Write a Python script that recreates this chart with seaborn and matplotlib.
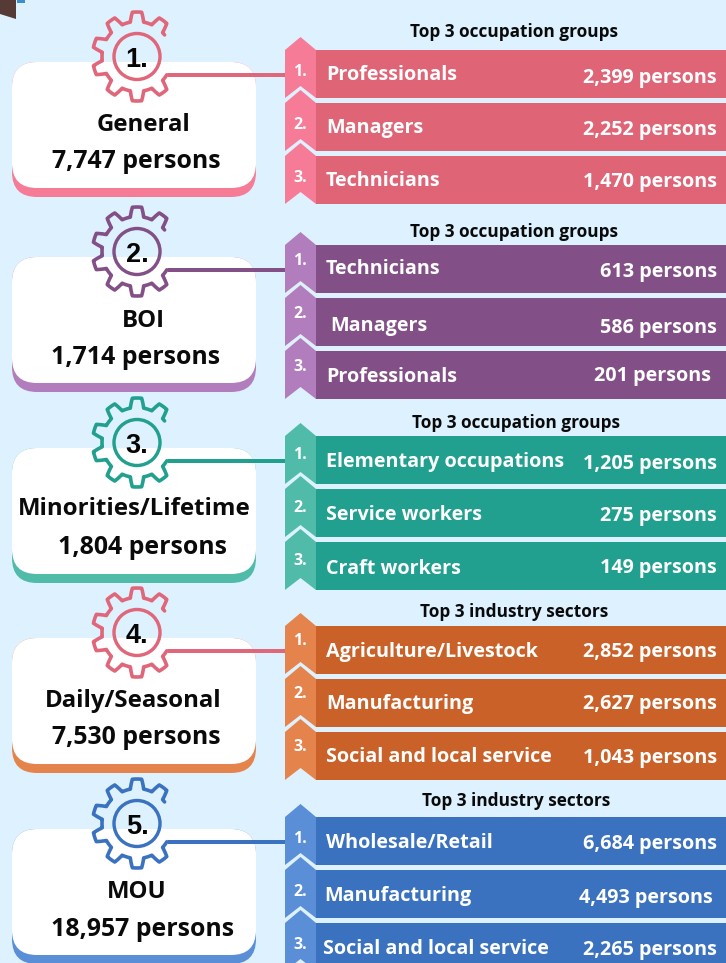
import numpy as np
import pandas as pd
import matplotlib
matplotlib.use("Agg")
import matplotlib.pyplot as plt
from matplotlib.patches import FancyBboxPatch, Polygon, Circle
import seaborn as sns

# ---------- data ----------
groups = ["General", "BOI", "Minorities/Lifetime", "Daily/Seasonal", "MOU"]
group_totals = ["7,747 persons", "1,714 persons", "1,804 persons", "7,530 persons", "18,957 persons"]
section_titles = ["Top 3 occupation groups", "Top 3 occupation groups", "Top 3 occupation groups",
                  "Top 3 industry sectors", "Top 3 industry sectors"]
item_names = [
    ["Professionals", "Managers", "Technicians"],
    ["Technicians", "Managers", "Professionals"],
    ["Elementary occupations", "Service workers", "Craft workers"],
    ["Agriculture/Livestock", "Manufacturing", "Social and local service"],
    ["Wholesale/Retail", "Manufacturing", "Social and local service"],
]
item_values = [
    [2399, 2252, 1470],
    [613, 586, 201],
    [1205, 275, 149],
    [2852, 2627, 1043],
    [6684, 4493, 2265],
]
bar_colors = ["#DF6475", "#825087", "#219F8F", "#CA6128", "#3A72BF"]
ribbon_colors = ["#F67B97", "#B27DBC", "#50BBA9", "#E5834D", "#5A8FD8"]
gear_colors = ["#E0667A", "#825087", "#219F8F", "#E0667A", "#3A72BF"]

# ---------- layout (pixels) ----------
W, H = 726, 963
BG = "#DDF2FE"
offsets = [0, 195, 386, 576, 767]
title_pos = [(514, 31), (514, 231), (516, 422), (514, 611), (516, 800)]
name_pos = [(143, 123), (143, 319), (134, 507), (133, 699), (137, 890)]
total_pos = [(136, 160), (136, 355), (143, 546), (136, 736), (143, 927)]
rank_dy = [-3, -9, -6, -10, -3]
label_x = [[326, 326, 326], [326, 330, 326], [326, 326, 326], [326, 326, 326], [326, 324, 323]]
label_y = [[74, 127, 180], [268, 324, 375], [461, 513, 567], [651, 703, 756], [841, 894, 948]]
value_x = [[717, 717, 717], [717, 717, 711], [717, 717, 717], [717, 717, 717], [717, 713, 717]]
value_y = [[76, 128, 180], [270, 326, 375], [462, 514, 567], [651, 703, 756], [843, 896, 948]]
rank_x = [300, 300, 300]
BAR_X0, RIB_X0 = 316, 285
BAR_H, STEP = 48, 53

sns.set_theme(style="white")
FONT = ["Open Sans", "DejaVu Sans"]
plt.rcParams["font.family"] = FONT

fig = plt.figure(figsize=(W / 100, H / 100), dpi=100, facecolor=BG)

# bars: one axes spanning the bar column, drawn through seaborn
rows = []
for g, off in enumerate(offsets):
    for r in range(3):
        rows.append({"group": groups[g], "y": 50 + off + r * STEP + BAR_H / 2,
                     "extent": W - BAR_X0, "value": item_values[g][r]})
df = pd.DataFrame(rows)
axb = fig.add_axes([BAR_X0 / W, 0, (W - BAR_X0) / W, 1], zorder=1)
sns.barplot(data=df, x="extent", y="y", hue="group", hue_order=groups, palette=bar_colors,
            orient="y", native_scale=True, dodge=False, width=BAR_H / STEP, saturation=1,
            legend=False, ax=axb, linewidth=0)
axb.set_xlim(0, W - BAR_X0)
axb.set_ylim(H, 0)
axb.axis("off")

# overlay in pixel coordinates
ax = fig.add_axes([0, 0, 1, 1], zorder=2)
ax.set_xlim(0, W)
ax.set_ylim(H, 0)
ax.axis("off")
ax.patch.set_alpha(0)

LW = 0.72  # px to pt
TXT_DY = 1.5


def gear_path(cx, cy):
    rin, rout = 35.0, 44.5
    ang = np.arange(38, 328.6, 0.5)
    r = []
    for a in ang:
        phi = abs(((a - 90 + 18) % 36) - 18)
        if phi < 6:
            r.append(rout)
        elif phi < 11:
            r.append(rout - (rout - rin) * (phi - 6) / 5)
        else:
            r.append(rin)
    r = np.array(r)
    t = np.radians(ang)
    return cx + r * np.cos(t), cy - r * np.sin(t)


# corner decoration
ax.add_patch(Polygon([(0, 0), (16, 0), (16, 19), (0, 14)], fc="#553A35", ec="none"))
ax.add_patch(Polygon([(17, 0), (25, 0), (25, 3), (17, 3)], fc="#3B8FCC", ec="none"))

for g, off in enumerate(offsets):
    c, rc, gc = bar_colors[g], ribbon_colors[g], gear_colors[g]
    # card with coloured lower lip
    for top, bot, col in [(62, 197, rc), (62, 188, "white")]:
        ax.add_patch(FancyBboxPatch((12 + 25, top + off + 25), 244 - 50, bot - top - 50,
                                    boxstyle="round,pad=25,rounding_size=25", fc=col, ec="none",
                                    mutation_aspect=1, zorder=2))
    # connector + gear
    ax.plot([168, RIB_X0], [75 + off, 75 + off], color=gc, lw=4 * LW, zorder=3, solid_capstyle="butt")
    gx, gy = gear_path(137, 56.5 + off)
    ax.plot(gx, gy, color=gc, lw=3.6 * LW, zorder=3, solid_joinstyle="round", solid_capstyle="round")
    ax.add_patch(Circle((137, 56.5 + off), 23, fc="none", ec=gc, lw=3.4 * LW, zorder=3))
    ax.text(137, 57 + off, f"{g + 1}.", ha="center", va="center_baseline", fontsize=19.5,
            fontweight="bold", color="#050505", zorder=4, family=["Liberation Sans", "DejaVu Sans"])
    # card text
    ax.text(name_pos[g][0], name_pos[g][1] + TXT_DY + 0.5, groups[g], ha="center", va="center", fontsize=17.3,
            fontweight="bold", color="#0A0A0A", zorder=4)
    ax.text(total_pos[g][0], total_pos[g][1] + TXT_DY + 0.5, group_totals[g], ha="center", va="center",
            fontsize=17.9, fontweight="bold", color="#0A0A0A", zorder=4)
    # section heading
    ax.text(title_pos[g][0], title_pos[g][1] + 1, section_titles[g], ha="center", va="center", fontsize=12.4,
            fontweight="bold", color="#0A0A0A", zorder=4)
    # ribbons and row text
    xm = (RIB_X0 + BAR_X0) / 2
    for r in range(3):
        t = 50 + off + r * STEP
        b = t + BAR_H
        ax.add_patch(Polygon([(RIB_X0, t), (xm, t - 13), (BAR_X0, t), (BAR_X0, b), (xm, b - 12), (RIB_X0, b)],
                             fc=rc, ec="none", zorder=2))
        ax.text(rank_x[r], t + BAR_H / 2 + rank_dy[g] + 1, f"{r + 1}.", ha="center", va="center",
                fontsize=11.5, fontweight="bold", color="white", zorder=4)
        ax.text(label_x[g][r], label_y[g][r] + TXT_DY, item_names[g][r], ha="left", va="center", fontsize=14.2,
                fontweight="bold", color="white", zorder=4)
        ax.text(value_x[g][r], value_y[g][r] + TXT_DY, f"{item_values[g][r]:,} persons", ha="right", va="center",
                fontsize=14.2, fontweight="bold", color="white", zorder=4)

fig.savefig("out.png", dpi=100, facecolor=BG)
